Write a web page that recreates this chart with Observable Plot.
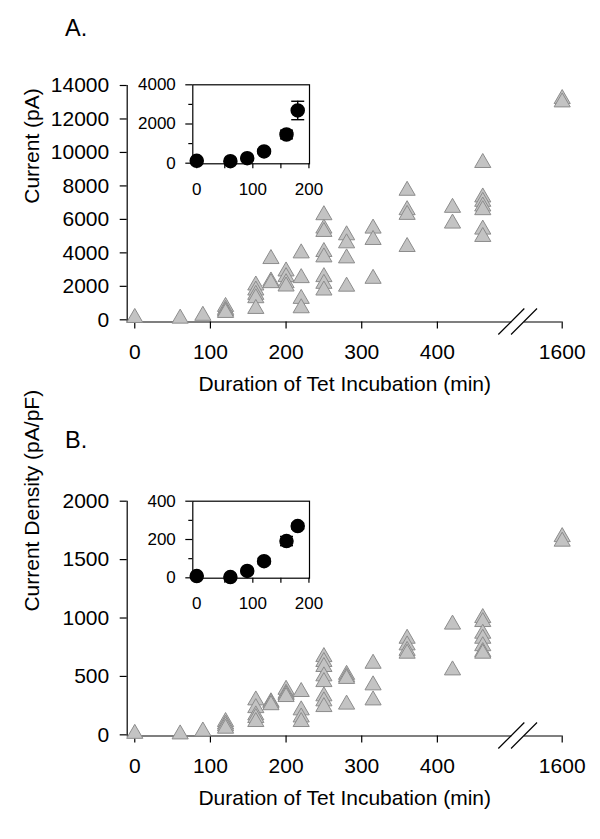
<!DOCTYPE html>
<html><head><meta charset="utf-8">
<script src="https://cdn.jsdelivr.net/npm/d3@7"></script>
<script src="https://cdn.jsdelivr.net/npm/@observablehq/plot@0.6"></script>
<style>
body{margin:0;background:#fff;font-family:"Liberation Sans",Arial,Helvetica,sans-serif;}
#wrap{position:relative;width:600px;height:839px;overflow:hidden;}
.panel{position:absolute;left:0;width:600px;height:415px;}
.panel > div{position:absolute;}
.lbl{left:65px;font-size:23.5px;line-height:1;color:#000;}
</style></head><body><div id="wrap"></div>
<script>
// ---- data ----
const time = [0, 60, 90,
  120,120,120,120,
  160,160,160,160,160,
  180,180,180,
  200,200,200,200,
  220,220,220,220,
  250,250,250,250,250,250,250,250,
  280,280,280,280,
  315,315,315,
  360,360,360,360,
  420,420,
  460,460,460,460,460,460,460,
  1600,1600];
const currentPA = [120, 80, 250,
  780, 600, 500, 420,
  2060, 1760, 1500, 1300, 660,
  3640, 2300, 2200,
  2900, 2560, 2200, 2000,
  3980, 2500, 1260, 700,
  6260, 5460, 5260, 4060, 3740, 2560, 2160, 1760,
  5060, 4580, 3680, 1990,
  5460, 4780, 2460,
  7720, 6560, 6280, 4360,
  6700, 5760,
  9380, 7320, 7060, 6780, 6560, 5400, 4960,
  13200, 13000];
const densityPApF = [10, 5, 30,
  111, 90, 74, 54,
  296, 230, 168, 145, 111,
  280, 270, 255,
  387, 353, 340, 325,
  368, 211, 150, 111,
  667, 625, 582, 502, 453, 331, 288, 239,
  515, 495, 480, 260,
  610, 425, 296,
  824, 767, 720, 696,
  945, 553,
  1001, 967, 867, 824, 760, 710, 696,
  1694, 1655];

const insetTime = [0, 60, 90, 120, 160, 180];
const insetCurrentMean = [120, 100, 255, 597, 1464, 2690];
const insetCurrentErr = [40, 30, 60, 110, 220, 470];
const insetDensityMean = [9, 4, 36, 87, 192, 270];
const insetDensityErr = [4, 3, 8, 15, 24, 15];

const xTickValues = [0, 100, 200, 300, 400, 1600];
const xTickLabels = ["0", "100", "200", "300", "400", "1600"];
const yTicksA = [0, 2000, 4000, 6000, 8000, 10000, 12000, 14000];
const yTicksB = [0, 500, 1000, 1500, 2000];
const insetXMajor = [0, 100, 200];
const insetXMinor = [50, 150];
const insetYMajorA = [0, 2000, 4000], insetYMinorA = [1000, 3000];
const insetYMajorB = [0, 200, 400], insetYMinorB = [100, 300];

const panelTitles = ["A.", "B."];
const yLabels = ["Current (pA)", "Current Density (pA/pF)"];
const xLabel = "Duration of Tet Incubation (min)";

// ---- broken axis mapping ----
const BREAK_DISPLAY = 565;            // display position of the 1600 tick
const breakGap = [498.4, 515.2];      // where the two slashes cut the axis
const xDisplay = t => t > 1000 ? BREAK_DISPLAY : t;
const X_MIN = -10;

const FONT = '"Liberation Sans", Arial, Helvetica, sans-serif';
const capSymbol = {draw(ctx, size) { const w = Math.sqrt(size / Math.PI); ctx.moveTo(-w, 0); ctx.lineTo(w, 0); }};

function mainPanel({values, yDomain, yTicks, yLabel, mt, mb, ylabelDy}) {
  const rows = time.map((t, i) => ({t: xDisplay(t), v: values[i]}));
  const [yMin, yMax] = yDomain;
  const ticksDisp = xTickValues.map(xDisplay);
  const plot = Plot.plot({
    width: 600, height: 415,
    marginLeft: 126.7, marginRight: 38.3, marginTop: mt, marginBottom: mb,
    style: {background: "transparent", fontFamily: FONT, fontSize: "21px", color: "black", overflow: "visible"},
    x: {domain: [X_MIN, BREAK_DISPLAY]},
    y: {domain: yDomain},
    marks: [
      Plot.axisX({ticks: ticksDisp, tickFormat: d => xTickLabels[ticksDisp.indexOf(d)], tickSize: 7, tickPadding: 15.5, fontSize: 21, label: null, strokeWidth: 1.2}),
      Plot.axisY({ticks: yTicks, tickFormat: d => String(d), tickSize: 7, tickPadding: 11, fontSize: 21, label: null, strokeWidth: 1.2}),
      Plot.ruleX([X_MIN], {y1: yMin, y2: yMax, stroke: "black", strokeWidth: 1.2}),
      Plot.ruleY([yMin], {x1: X_MIN, x2: breakGap[0], stroke: "black", strokeWidth: 1.2}),
      Plot.ruleY([yMin], {x1: breakGap[1], x2: BREAK_DISPLAY, stroke: "black", strokeWidth: 1.2}),
      Plot.text([yLabel], {text: d => d, frameAnchor: "left", rotate: -90, dx: -95, dy: ylabelDy, fontSize: 21, fill: "black"}),
      Plot.text([xLabel], {text: d => d, frameAnchor: "bottom", dy: 68.5, fontSize: 21, fill: "black"}),
      Plot.dot(rows, {x: "t", y: "v", symbol: "triangle", r: 6, fill: "#c3c3c3", stroke: "#8c8c8c", strokeWidth: 1})
    ]
  });
  // axis-break slashes, placed with Plot's own scales
  const sx = plot.scale("x"), sy = plot.scale("y");
  const svg = d3.select(plot);
  for (const b of breakGap) {
    const cx = sx.apply(b), cy = sy.apply(yMin);
    svg.append("line").attr("x1", cx - 13).attr("y1", cy + 13).attr("x2", cx + 13).attr("y2", cy - 13)
      .attr("stroke", "black").attr("stroke-width", 1.2);
  }
  return plot;
}

function insetPanel({mean, err, yDomain, yMajor, yMinor, mt, mb}) {
  const rows = insetTime.map((t, i) => ({t, m: mean[i], e: err[i]}));
  return Plot.plot({
    width: 220, height: 150,
    marginLeft: 72.3, marginRight: 31, marginTop: mt, marginBottom: mb,
    style: {background: "transparent", fontFamily: FONT, fontSize: "17px", color: "black", overflow: "visible"},
    x: {domain: [-7, 201]},
    y: {domain: yDomain},
    marks: [
      Plot.frame({stroke: "black", strokeWidth: 1.2}),
      Plot.axisX({ticks: insetXMajor, tickFormat: d => String(d), tickSize: 5, tickPadding: 14, fontSize: 17, label: null, strokeWidth: 1.2}),
      Plot.axisX({ticks: insetXMinor, tickFormat: () => "", tickSize: 5, label: null, strokeWidth: 1.2}),
      Plot.axisY({ticks: yMajor, tickFormat: d => String(d), tickSize: 7, tickPadding: 10, fontSize: 17, label: null, strokeWidth: 1.2}),
      Plot.axisY({ticks: yMinor, tickFormat: () => "", tickSize: 4, label: null, strokeWidth: 1.2}),
      Plot.ruleX(rows, {x: "t", y1: d => d.m - d.e, y2: d => d.m + d.e, stroke: "black", strokeWidth: 1.4}),
      Plot.dot(rows, {x: "t", y: d => d.m + d.e, symbol: capSymbol, r: 6.5, stroke: "black", strokeWidth: 1.4}),
      Plot.dot(rows, {x: "t", y: d => d.m - d.e, symbol: capSymbol, r: 6.5, stroke: "black", strokeWidth: 1.4}),
      Plot.dot(rows, {x: "t", y: "m", r: 6.5, fill: "black", stroke: "black"})
    ]
  });
}

const wrap = document.getElementById("wrap");
const configs = [
  {top: 0, titleTop: 17,
   main: {values: currentPA, yDomain: [-131, 14000], yTicks: yTicksA, yLabel: yLabels[0], mt: 85, mb: 93.5, ylabelDy: 0},
   inset: {mean: insetCurrentMean, err: insetCurrentErr, yDomain: [-31, 4000], yMajor: insetYMajorA, yMinor: insetYMinorA, mt: 24.3, mb: 46.7}},
  {top: 415, titleTop: 14,
   main: {values: densityPApF, yDomain: [-10, 2000], yTicks: yTicksB, yLabel: yLabels[1], mt: 85.7, mb: 94.5, ylabelDy: -7},
   inset: {mean: insetDensityMean, err: insetDensityErr, yDomain: [-2, 400], yMajor: insetYMajorB, yMinor: insetYMinorB, mt: 25.7, mb: 47.3}}
];
configs.forEach((c, i) => {
  const panel = document.createElement("div");
  panel.className = "panel";
  panel.style.top = c.top + "px";
  const m = document.createElement("div"); m.style.left = "0px"; m.style.top = "0px";
  m.appendChild(mainPanel(c.main));
  const ins = document.createElement("div"); ins.style.left = "120px"; ins.style.top = "60px";
  ins.appendChild(insetPanel(c.inset));
  const t = document.createElement("div"); t.className = "lbl"; t.style.top = c.titleTop + "px";
  t.textContent = panelTitles[i];
  panel.appendChild(m); panel.appendChild(ins); panel.appendChild(t);
  wrap.appendChild(panel);
});
</script>
</body></html>
